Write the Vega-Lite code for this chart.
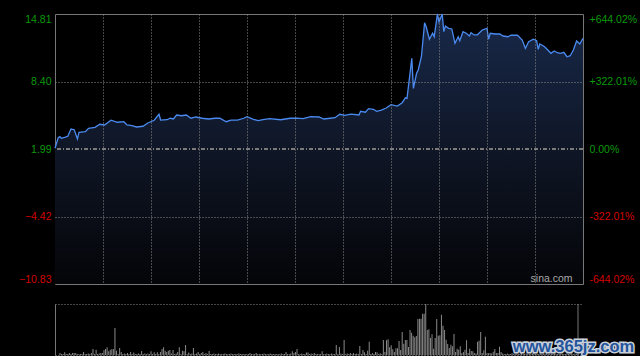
{
  "$schema": "https://vega.github.io/schema/vega-lite/v6.json",
  "background": "#000000",
  "padding": {"left": 18, "top": 10, "right": 4, "bottom": 0},
  "spacing": 18,
  "config": {
    "font": "Liberation Sans",
    "view": {"stroke": "#777777", "strokeWidth": 1},
    "axis": {"labelFont": "Liberation Sans", "labelFontSize": 10.5, "tickSize": 0, "ticks": false}
  },
  "datasets": {
    "price": [
      {"m":0,"p":2.06},{"m":2,"p":3.06},{"m":3,"p":3.16},{"m":4,"p":3.01},{"m":6,"p":3.10},{"m":8,"p":3.20},
      {"m":10,"p":3.89},{"m":12,"p":3.82},{"m":14,"p":2.94},{"m":15,"p":3.58},{"m":19,"p":3.63},{"m":21,"p":3.96},
      {"m":25,"p":4.05},{"m":28,"p":4.34},{"m":31,"p":4.27},{"m":35,"p":4.72},{"m":39,"p":4.53},{"m":43,"p":4.58},
      {"m":45,"p":4.27},{"m":48,"p":4.20},{"m":51,"p":4.08},{"m":55,"p":4.15},{"m":58,"p":4.46},{"m":62,"p":4.72},
      {"m":65,"p":5.29},{"m":66,"p":4.74},{"m":70,"p":4.77},{"m":72,"p":4.91},{"m":74,"p":4.84},{"m":76,"p":5.22},
      {"m":79,"p":5.15},{"m":82,"p":5.22},{"m":85,"p":4.91},{"m":88,"p":5.03},{"m":92,"p":4.91},{"m":96,"p":4.84},
      {"m":100,"p":4.91},{"m":103,"p":4.91},{"m":107,"p":4.58},{"m":110,"p":4.74},{"m":114,"p":4.74},{"m":118,"p":4.91},
      {"m":120,"p":5.06},{"m":124,"p":4.81},{"m":127,"p":4.68},{"m":130,"p":4.77},{"m":134,"p":4.87},{"m":141,"p":4.77},
      {"m":147,"p":4.91},{"m":151,"p":4.93},{"m":155,"p":4.87},{"m":160,"p":5.06},{"m":165,"p":5.03},{"m":168,"p":4.84},
      {"m":172,"p":4.91},{"m":175,"p":4.96},{"m":178,"p":5.29},{"m":181,"p":5.19},{"m":185,"p":5.31},{"m":190,"p":5.22},
      {"m":191,"p":5.57},{"m":194,"p":5.48},{"m":196,"p":5.82},{"m":199,"p":5.76},{"m":201,"p":5.57},{"m":204,"p":5.69},
      {"m":207,"p":5.88},{"m":210,"p":6.20},{"m":214,"p":6.07},{"m":217,"p":6.39},{"m":219,"p":6.85},{"m":220,"p":6.80},
      {"m":222,"p":9.33},{"m":223,"p":10.60},{"m":224,"p":7.75},{"m":226,"p":9.18},{"m":227,"p":9.49},{"m":229,"p":10.75},
      {"m":231,"p":13.98},{"m":232,"p":13.60},{"m":234,"p":12.41},{"m":236,"p":12.98},{"m":237,"p":12.65},{"m":239,"p":14.81},
      {"m":240,"p":14.08},{"m":242,"p":14.81},{"m":243,"p":13.13},{"m":244,"p":13.67},{"m":246,"p":13.45},{"m":248,"p":13.39},
      {"m":250,"p":12.03},{"m":252,"p":12.65},{"m":253,"p":12.27},{"m":255,"p":13.13},{"m":257,"p":12.98},{"m":259,"p":12.72},
      {"m":260,"p":13.03},{"m":262,"p":12.82},{"m":264,"p":12.84},{"m":267,"p":13.29},{"m":270,"p":13.45},{"m":271,"p":12.41},
      {"m":272,"p":12.98},{"m":275,"p":12.91},{"m":278,"p":12.91},{"m":280,"p":12.72},{"m":283,"p":12.65},{"m":285,"p":12.79},
      {"m":289,"p":12.79},{"m":292,"p":12.34},{"m":294,"p":11.55},{"m":296,"p":12.18},{"m":299,"p":12.41},{"m":301,"p":12.27},
      {"m":302,"p":11.46},{"m":303,"p":11.96},{"m":306,"p":11.70},{"m":310,"p":11.08},{"m":312,"p":11.30},{"m":314,"p":11.13},
      {"m":316,"p":11.08},{"m":318,"p":11.17},{"m":320,"p":10.75},{"m":322,"p":10.85},{"m":324,"p":11.39},{"m":326,"p":12.25},
      {"m":328,"p":11.96},{"m":330,"p":12.50}
    ],
    "volume": [
      {"m":0,"v":2},{"m":1,"v":1},{"m":2,"v":1},{"m":3,"v":2.7},{"m":4,"v":1},{"m":5,"v":1},{"m":6,"v":2},{"m":7,"v":1},{"m":8,"v":2},{"m":9,"v":2},
      {"m":10,"v":2},{"m":11,"v":1},{"m":12,"v":1},{"m":13,"v":1},{"m":14,"v":1},{"m":15,"v":3},{"m":16,"v":1},{"m":17,"v":1},{"m":18,"v":1.5},{"m":19,"v":1},
      {"m":20,"v":2},{"m":21,"v":6},{"m":22,"v":1},{"m":23,"v":5.3},{"m":24,"v":1},{"m":25,"v":1.5},{"m":26,"v":2},{"m":27,"v":2},{"m":28,"v":4.7},{"m":29,"v":6},
      {"m":30,"v":7.7},{"m":31,"v":3.7},{"m":32,"v":5.3},{"m":33,"v":5.7},{"m":34,"v":6},{"m":35,"v":27},{"m":36,"v":4.3},{"m":37,"v":1},{"m":38,"v":7},{"m":39,"v":3},
      {"m":40,"v":1},{"m":41,"v":1.5},{"m":42,"v":1},{"m":43,"v":2},{"m":44,"v":1},{"m":45,"v":3},{"m":46,"v":1},{"m":47,"v":2.5},{"m":48,"v":1},{"m":49,"v":1},
      {"m":50,"v":1.5},{"m":51,"v":1},{"m":52,"v":4},{"m":53,"v":1},{"m":54,"v":1.5},{"m":55,"v":1},{"m":56,"v":1.5},{"m":57,"v":1},{"m":58,"v":3.7},{"m":59,"v":1},
      {"m":60,"v":2.7},{"m":61,"v":1},{"m":62,"v":2.7},{"m":63,"v":1},{"m":64,"v":3},{"m":65,"v":6},{"m":66,"v":7.7},{"m":67,"v":4.3},{"m":68,"v":3},{"m":69,"v":4.3},
      {"m":70,"v":5},{"m":71,"v":1.5},{"m":72,"v":5},{"m":73,"v":1},{"m":74,"v":1.5},{"m":75,"v":3},{"m":76,"v":7.7},{"m":77,"v":1},{"m":78,"v":4.3},{"m":79,"v":3.7},
      {"m":80,"v":10},{"m":81,"v":1},{"m":82,"v":2.5},{"m":83,"v":1},{"m":84,"v":1.5},{"m":85,"v":7},{"m":86,"v":1},{"m":87,"v":1.5},{"m":88,"v":3},{"m":89,"v":1},
      {"m":90,"v":2},{"m":91,"v":3},{"m":92,"v":1},{"m":93,"v":2},{"m":94,"v":1},{"m":95,"v":4},{"m":96,"v":1},{"m":97,"v":1},{"m":98,"v":1.5},{"m":99,"v":1},
      {"m":100,"v":1},{"m":101,"v":1.5},{"m":102,"v":1},{"m":103,"v":1},{"m":104,"v":1},{"m":105,"v":1.5},{"m":106,"v":1},{"m":107,"v":1},{"m":108,"v":1},{"m":109,"v":1.5},
      {"m":110,"v":1},{"m":111,"v":1},{"m":112,"v":1},{"m":113,"v":1},{"m":114,"v":1.5},{"m":115,"v":1},{"m":116,"v":1},{"m":117,"v":1},{"m":118,"v":1},{"m":119,"v":1},
      {"m":120,"v":1},{"m":121,"v":2},{"m":122,"v":1},{"m":123,"v":1},{"m":124,"v":1},{"m":125,"v":2},{"m":126,"v":1},{"m":127,"v":1},{"m":128,"v":1},{"m":129,"v":1},
      {"m":130,"v":1.5},{"m":131,"v":1},{"m":132,"v":1},{"m":133,"v":1},{"m":134,"v":1.5},{"m":135,"v":1},{"m":136,"v":1},{"m":137,"v":1},{"m":138,"v":1},{"m":139,"v":1},
      {"m":140,"v":1},{"m":141,"v":1.5},{"m":142,"v":1},{"m":143,"v":1},{"m":144,"v":3},{"m":145,"v":1},{"m":146,"v":1},{"m":147,"v":1.5},{"m":148,"v":3.7},{"m":149,"v":2},
      {"m":150,"v":3},{"m":151,"v":6},{"m":152,"v":1},{"m":153,"v":1},{"m":154,"v":1.5},{"m":155,"v":1},{"m":156,"v":1},{"m":157,"v":2.5},{"m":158,"v":2.5},{"m":159,"v":1},
      {"m":160,"v":1.5},{"m":161,"v":1},{"m":162,"v":2},{"m":163,"v":1},{"m":164,"v":1},{"m":165,"v":1},{"m":166,"v":1},{"m":167,"v":3.7},{"m":168,"v":1},{"m":169,"v":1},
      {"m":170,"v":1.5},{"m":171,"v":1},{"m":172,"v":1},{"m":173,"v":1.5},{"m":174,"v":1},{"m":175,"v":1},{"m":176,"v":10},{"m":177,"v":1},{"m":178,"v":8},{"m":179,"v":1.5},
      {"m":180,"v":1},{"m":181,"v":15},{"m":182,"v":1},{"m":183,"v":1.5},{"m":184,"v":1},{"m":185,"v":2},{"m":186,"v":1},{"m":187,"v":2},{"m":188,"v":1},{"m":189,"v":1.5},
      {"m":190,"v":1},{"m":191,"v":9},{"m":192,"v":1},{"m":193,"v":5},{"m":194,"v":2.7},{"m":195,"v":1},{"m":196,"v":4.3},{"m":197,"v":13.3},{"m":198,"v":1},{"m":199,"v":2},
      {"m":200,"v":1},{"m":201,"v":3},{"m":202,"v":2.7},{"m":203,"v":1},{"m":204,"v":1.7},{"m":205,"v":1},{"m":206,"v":15},{"m":207,"v":3},{"m":208,"v":14.7},{"m":209,"v":15.7},
      {"m":210,"v":7.7},{"m":211,"v":9.7},{"m":212,"v":5.7},{"m":213,"v":3},{"m":214,"v":6.7},{"m":215,"v":6.7},{"m":216,"v":14},{"m":217,"v":5},{"m":218,"v":23},{"m":219,"v":11.3},
      {"m":220,"v":15},{"m":221,"v":15},{"m":222,"v":8},{"m":223,"v":25},{"m":224,"v":22.3},{"m":225,"v":19.3},{"m":226,"v":17.7},{"m":227,"v":19},{"m":228,"v":36},{"m":229,"v":36.3},
      {"m":230,"v":36.3},{"m":231,"v":41.3},{"m":232,"v":41.3},{"m":233,"v":51},{"m":234,"v":25},{"m":235,"v":25.7},{"m":236,"v":17},{"m":237,"v":20.7},{"m":238,"v":6.3},{"m":239,"v":17},
      {"m":240,"v":36},{"m":241,"v":19.3},{"m":242,"v":19.7},{"m":243,"v":40.3},{"m":244,"v":29.3},{"m":245,"v":25},{"m":246,"v":15.3},{"m":247,"v":11},{"m":248,"v":7},{"m":249,"v":10.3},
      {"m":250,"v":8.7},{"m":251,"v":21},{"m":252,"v":3},{"m":253,"v":6.3},{"m":254,"v":5.3},{"m":255,"v":8.7},{"m":256,"v":2},{"m":257,"v":3},{"m":258,"v":5.3},{"m":259,"v":14.7},
      {"m":260,"v":2},{"m":261,"v":6.3},{"m":262,"v":4},{"m":263,"v":3.7},{"m":264,"v":2},{"m":265,"v":1.5},{"m":266,"v":13.3},{"m":267,"v":14.3},{"m":268,"v":23},{"m":269,"v":2},
      {"m":270,"v":4.7},{"m":271,"v":18.3},{"m":272,"v":2},{"m":273,"v":1.7},{"m":274,"v":2},{"m":275,"v":1.5},{"m":276,"v":3.3},{"m":277,"v":6},{"m":278,"v":2},{"m":279,"v":2},
      {"m":280,"v":8.3},{"m":281,"v":3},{"m":282,"v":1.5},{"m":283,"v":1},{"m":284,"v":1},{"m":285,"v":1.5},{"m":286,"v":1},{"m":287,"v":1},{"m":288,"v":2},{"m":289,"v":1},
      {"m":290,"v":1},{"m":291,"v":1.5},{"m":292,"v":1},{"m":293,"v":1},{"m":294,"v":2},{"m":295,"v":1},{"m":296,"v":1},{"m":297,"v":1.5},{"m":298,"v":1},{"m":299,"v":1},
      {"m":300,"v":1},{"m":301,"v":1.5},{"m":302,"v":2},{"m":303,"v":1},{"m":304,"v":1},{"m":305,"v":1},{"m":306,"v":1.5},{"m":307,"v":1},{"m":308,"v":1},{"m":309,"v":1},
      {"m":310,"v":1.5},{"m":311,"v":1},{"m":312,"v":1},{"m":313,"v":1},{"m":314,"v":1},{"m":315,"v":1.5},{"m":316,"v":1},{"m":317,"v":1},{"m":318,"v":1},{"m":319,"v":1},
      {"m":320,"v":1.5},{"m":321,"v":1},{"m":322,"v":1},{"m":323,"v":2},{"m":324,"v":1},{"m":325,"v":1.5},{"m":326,"v":2},{"m":327,"v":1},{"m":328,"v":1.5},{"m":329,"v":1},
      {"m":330,"v":1}
    ],
    "labels": [{"site": "sina.com", "mark": "www.365jz.com"}]
  },
  "vconcat": [
    {
      "width": 528,
      "height": 270,
      "layer": [
        {
          "data": {"name": "price"},
          "mark": {
            "type": "area",
            "color": {
              "gradient": "linear", "x1": 0, "y1": 0, "x2": 0, "y2": 1,
              "stops": [
                {"offset": 0, "color": "#18294a"},
                {"offset": 0.5, "color": "#0f1626"},
                {"offset": 1, "color": "#040508"}
              ]
            }
          },
          "encoding": {
            "x": {
              "field": "m", "type": "quantitative",
              "scale": {"domain": [0, 330], "nice": false, "zero": false},
              "axis": {
                "values": [30, 60, 90, 120, 150, 180, 210, 240, 270, 300],
                "grid": true, "gridDash": [1, 2], "gridColor": "#8c8c8c",
                "labels": false, "ticks": false, "domain": false, "title": null, "zindex": 1
              }
            },
            "y": {
              "field": "p", "type": "quantitative",
              "scale": {"domain": [-10.83, 14.81], "nice": false, "zero": false},
              "axis": {
                "orient": "left",
                "values": [14.81, 8.4, 1.99, -4.42, -10.83],
                "format": ".2f",
                "labelFlush": true,
                "labelFlushOffset": 0,
                "labelPadding": 4,
                "labelColor": {"condition": {"test": "datum.value < 0", "value": "#d40000"}, "value": "#0a9a0a"},
                "grid": true, "gridDash": [1, 2], "gridColor": "#8c8c8c",
                "gridOpacity": {"condition": {"test": "abs(datum.value - 8.4) < 0.01 || abs(datum.value + 4.42) < 0.01", "value": 1}, "value": 0},
                "ticks": false, "domain": false, "title": null, "zindex": 1
              }
            },
            "y2": {"datum": -10.83}
          }
        },
        {
          "data": {"name": "price"},
          "mark": {"type": "rule", "color": "#7c7c7c", "strokeDash": [4, 2, 1, 2], "strokeWidth": 1},
          "encoding": {
            "y": {"datum": 1.99, "type": "quantitative", "scale": {"domain": [-10.83, 14.81], "nice": false, "zero": false}, "axis": null}
          }
        },
        {
          "data": {"name": "price"},
          "mark": {"type": "line", "color": "#4a8af0", "strokeWidth": 1.3},
          "encoding": {
            "x": {"field": "m", "type": "quantitative", "scale": {"domain": [0, 330], "nice": false, "zero": false}},
            "y": {
              "field": "p", "type": "quantitative",
              "scale": {"domain": [-10.83, 14.81], "nice": false, "zero": false},
              "axis": {
                "orient": "right",
                "values": [14.81, 8.4, 1.99, -4.42, -10.83],
                "labelExpr": "datum.value > 10 ? '+644.02%' : datum.value > 5 ? '+322.01%' : datum.value > 0 ? '0.00%' : datum.value > -5 ? '-322.01%' : '-644.02%'",
                "labelFlush": true,
                "labelFlushOffset": 0,
                "labelPadding": 6,
                "labelColor": {"condition": {"test": "datum.value < 0", "value": "#d40000"}, "value": "#0a9a0a"},
                "grid": false, "ticks": false, "domain": false, "title": null
              }
            }
          }
        },
        {
          "data": {"name": "labels"},
          "mark": {"type": "text", "align": "right", "baseline": "alphabetic", "fontSize": 10.5, "color": "#a8a8a8", "font": "Liberation Sans"},
          "encoding": {
            "x": {"datum": 323.5, "type": "quantitative", "scale": {"domain": [0, 330], "nice": false, "zero": false}},
            "y": {"datum": -10.64, "type": "quantitative", "scale": {"domain": [-10.83, 14.81], "nice": false, "zero": false}, "axis": null},
            "text": {"field": "site"}
          }
        }
      ],
      "resolve": {"axis": {"y": "independent"}}
    },
    {
      "width": 528,
      "height": 51,
      "view": {"stroke": null},
      "layer": [
        {
          "data": {"name": "volume"},
          "mark": {"type": "bar", "color": "#8a8a8a", "size": 1},
          "encoding": {
            "x": {"field": "m", "type": "quantitative", "scale": {"domain": [0, 330], "nice": false, "zero": false}, "axis": null},
            "y": {
              "field": "v", "type": "quantitative",
              "scale": {"domain": [0, 51], "nice": false},
              "axis": {
                "orient": "left", "values": [0, 25.5, 51],
                "grid": true, "gridDash": [1, 2], "gridColor": "#8c8c8c",
                "labels": false, "ticks": false, "domain": true, "domainColor": "#777777",
                "title": null, "zindex": 1
              }
            }
          }
        },
        {
          "data": {"name": "labels"},
          "mark": {"type": "rule", "color": "#777777", "strokeWidth": 1},
          "encoding": {
            "x": {"datum": 330, "type": "quantitative", "scale": {"domain": [0, 330], "nice": false, "zero": false}, "axis": null},
            "y": {"datum": 0, "type": "quantitative", "scale": {"domain": [0, 51], "nice": false}},
            "y2": {"datum": 51}
          }
        },
        {
          "data": {"name": "labels"},
          "mark": {"type": "text", "align": "left", "baseline": "alphabetic", "fontSize": 16.5, "fontWeight": "bold", "font": "Liberation Sans", "color": "#c9d0da", "stroke": "#c9d0da", "strokeWidth": 3},
          "encoding": {
            "x": {"datum": 288.5, "type": "quantitative", "scale": {"domain": [0, 330], "nice": false, "zero": false}, "axis": null},
            "y": {"datum": 3, "type": "quantitative", "scale": {"domain": [0, 51], "nice": false}},
            "text": {"field": "mark"}
          }
        },
        {
          "data": {"name": "labels"},
          "mark": {"type": "text", "align": "left", "baseline": "alphabetic", "fontSize": 16.5, "fontWeight": "bold", "font": "Liberation Sans", "color": "#23549c"},
          "encoding": {
            "x": {"datum": 288.5, "type": "quantitative", "scale": {"domain": [0, 330], "nice": false, "zero": false}, "axis": null},
            "y": {"datum": 3, "type": "quantitative", "scale": {"domain": [0, 51], "nice": false}},
            "text": {"field": "mark"}
          }
        }
      ]
    }
  ]
}
